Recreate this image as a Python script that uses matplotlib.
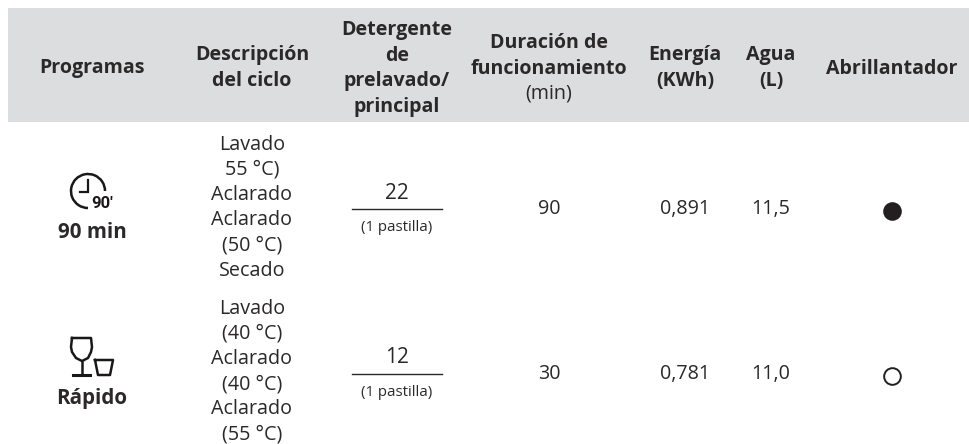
import matplotlib
matplotlib.use('Agg')
import matplotlib.pyplot as plt
from matplotlib.patches import Arc, Rectangle

# table contents
headers = ["Programas", "Descripción\ndel ciclo", "Detergente\nde\nprelavado/\nprincipal",
           "Duración de\nfuncionamiento", "Energía\n(KWh)", "Agua\n(L)", "Abrillantador"]
header_unit = "(min)"
programs = ["90 min", "Rápido"]
cycles = [["Lavado", "55 °C)", "Aclarado", "Aclarado", "(50 °C)", "Secado"],
          ["Lavado", "(40 °C)", "Aclarado", "(40 °C)", "Aclarado", "(55 °C)"]]
detergent = ["22", "12"]
detergent_note = ["(1 pastilla)", "(1 pastilla)"]
duration = ["90", "30"]
energy = ["0,891", "0,781"]
water = ["11,5", "11,0"]
rinse_aid = [True, False]

INK = '#2b2829'
BAND = '#dcddde'
FONT = 'Open Sans'

# column centres and row positions, in pixels
col_x = [92, 252, 397, 549, 685, 771, 892]
cycle_top = [142, 306]
line_h = 25.2
det_y = [191, 355]
rule_y = [209, 374]
note_y = [225, 390]
val_y = [206, 371]
mark_y = [211, 376]
label_y = [230, 396]

fig = plt.figure(figsize=(9.7, 4.44), dpi=100)
ax = fig.add_axes([0, 0, 1, 1])
ax.set_xlim(0, 970)
ax.set_ylim(444, 0)
ax.axis('off')


def txt(x, y, s, size=14.2, weight='normal', color=INK):
    ax.text(x, y, s, ha='center', va='center_baseline', fontsize=size, fontweight=weight,
            color=color, family=FONT)


# header band
ax.add_patch(Rectangle((8, 8), 962, 114, fc=BAND, ec='none'))
header_y = [66, 65.5, 66, 53.5, 65.5, 65.5, 66]
for x, y, h in zip(col_x, header_y, headers):
    lines = h.split("\n")
    top = y - (len(lines) - 1) * 25.4 / 2
    for j, line in enumerate(lines):
        txt(x, top + j * 25.4, line, size=14.1, weight='bold')
txt(col_x[3], 91, header_unit)

# rows
for i in range(2):
    txt(col_x[0], label_y[i], programs[i], size=14.8, weight='bold')
    for j, line in enumerate(cycles[i]):
        txt(col_x[1], cycle_top[i] + j * line_h, line)
    txt(col_x[2], det_y[i], detergent[i], size=15)
    ax.plot([352, 442], [rule_y[i], rule_y[i]], color=INK, lw=1)
    txt(col_x[2], note_y[i], detergent_note[i], size=10.8)
    txt(col_x[3], val_y[i], duration[i])
    txt(col_x[4], val_y[i], energy[i])
    txt(col_x[5], val_y[i], water[i])
    ax.plot([col_x[6]], [mark_y[i]], 'o', ms=12, mew=1.4, mec='#231f20',
            mfc='#231f20' if rinse_aid[i] else 'white')

# clock icon
ax.add_patch(Arc((88, 191), 34, 34, theta1=90, theta2=360, lw=1.8, color='#1a1718'))
ax.plot([88, 88, 80], [180, 192, 192], color='#1a1718', lw=1.6, solid_joinstyle='miter')
ax.text(102, 203, "90'", ha='center', va='center', fontsize=12, fontweight='bold',
        color='#1a1718', family='Roboto')

# glass icons
ax.plot([72, 71, 72, 76, 82, 88, 91, 92, 91, 72],
        [338, 347, 352, 358, 361, 358, 352, 347, 338, 338], color='#1a1718', lw=1.8)
ax.plot([82, 82], [361, 375], color='#1a1718', lw=1.8)
ax.plot([73, 90], [375, 375], color='#1a1718', lw=2.2)
ax.plot([95, 113, 110, 98, 95], [360, 360, 375, 375, 360], color='#1a1718', lw=1.8,
        solid_joinstyle='round')

plt.savefig('out.png', dpi=100)
